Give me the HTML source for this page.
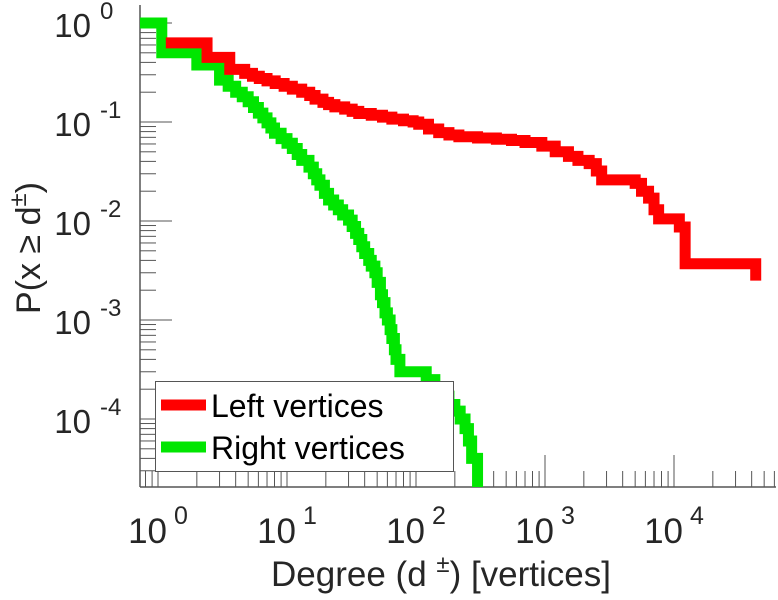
<!DOCTYPE html>
<html><head><meta charset="utf-8">
<style>
html,body{margin:0;padding:0;background:#fff;}
svg{display:block;font-family:"Liberation Sans",Arial,sans-serif;}
</style></head>
<body>
<svg id="chart" width="778" height="600" viewBox="0 0 778 600" xmlns="http://www.w3.org/2000/svg">
  <defs><clipPath id="plotclip"><rect x="140" y="5" width="636" height="482"/></clipPath></defs>
  <g id="ticks"></g>
  <g id="series" clip-path="url(#plotclip)"></g>
  <g id="labels"></g>
  <text transform="translate(40,248) rotate(-90)" text-anchor="middle" font-size="34" fill="#262626">P(x ≥ d<tspan dy="-14" font-size="24">±</tspan><tspan dy="14">)</tspan></text>
  <text x="441" y="586" text-anchor="middle" font-size="35" fill="#262626">Degree (d <tspan dy="-14" font-size="24">±</tspan><tspan dy="14">) [vertices]</tspan></text>
  <g>
    <rect x="155.5" y="381.5" width="298" height="90" fill="#fff" stroke="#555" stroke-width="1"/>
    <line x1="161" y1="405" x2="206" y2="405" stroke="#ff0000" stroke-width="11"/>
    <text x="211" y="417" font-size="32" fill="#000">Left vertices</text>
    <line x1="161" y1="447" x2="206" y2="447" stroke="#00e600" stroke-width="11"/>
    <text x="211" y="459" font-size="32" fill="#000">Right vertices</text>
  </g>
</svg>
<script>
const leftDegrees = [1.15,2.4,3.6,4.7,5.4,6.1,7,8.1,9.5,11,13,15,16.5,19,21,23.5,28,32,36,45,55,65,80,95,105,125,150,180,215,300,420,550,700,945,1200,1520,1800,2200,2500,2750,5000,5600,6350,7000,7600,11000,12200,43000];
const leftProb = [0.63,0.45,0.34,0.31,0.29,0.275,0.26,0.245,0.23,0.215,0.2,0.185,0.17,0.158,0.15,0.142,0.135,0.128,0.122,0.117,0.112,0.107,0.103,0.1,0.095,0.085,0.078,0.074,0.071,0.069,0.067,0.065,0.062,0.057,0.05,0.045,0.041,0.038,0.032,0.026,0.024,0.02,0.017,0.013,0.0105,0.0087,0.0037,0.0025];
const rightDegrees = [0.7,1.07,2,3,3.5,4,4.5,5,5.5,6,6.5,7,7.5,8,9,10,11,12,13,14.8,16,17,18,19.5,21,23,25,27,30,32,34,36,38,40,43,45,48,50,53,55,57.5,60,63,65,68,70,75,120,140,160,180,200,220,240,255,270,300];
const rightProb = [1,0.5,0.376,0.265,0.23,0.2,0.18,0.16,0.14,0.123,0.11,0.098,0.087,0.077,0.068,0.061,0.054,0.047,0.041,0.035,0.03,0.026,0.023,0.019,0.0163,0.0145,0.013,0.0115,0.0102,0.0088,0.0075,0.0065,0.0055,0.0047,0.004,0.0035,0.003,0.0024,0.0018,0.0015,0.00118,0.001,0.0008,0.00065,0.0005,0.0004,0.0003,0.00025,0.0002,0.00017,0.00014,0.00012,0.0001,0.00008,0.00006,0.00004,0.000015];
const xDecades = [0,1,2,3,4];
const yDecades = [0,-1,-2,-3,-4];

const NS="http://www.w3.org/2000/svg";
const X0=158, XD=129, Y0=23, YD=99, LEFT=140, BOTTOM=487, RIGHT=776, TOP=5;
function xs(d){return X0+XD*Math.log10(d);}
function ys(p){return Y0-YD*Math.log10(p);}
function mk(tag,attrs,parent){const e=document.createElementNS(NS,tag);for(const k in attrs)e.setAttribute(k,attrs[k]);parent.appendChild(e);return e;}

const ticks=document.getElementById('ticks');
const labels=document.getElementById('labels');
const series=document.getElementById('series');
let ax=mk('line',{x1:LEFT,y1:TOP,x2:LEFT,y2:BOTTOM,stroke:'#555','stroke-width':1.5},ticks);


let bx=mk('line',{x1:LEFT,y1:BOTTOM,x2:RIGHT,y2:BOTTOM,stroke:'#555','stroke-width':1.5},ticks);


for(let e=1;e>=-5;e--){
  for(let m=1;m<10;m++){
    const y=ys(m*Math.pow(10,e));
    if(y<TOP||y>BOTTOM)continue;
    const len=m===1?32:16;
    const t=mk('line',{x1:LEFT,y1:y,x2:LEFT+len,y2:y,stroke:'#555','stroke-width':1},ticks);
    
    
  }
}
for(let e=-1;e<=5;e++){
  for(let m=1;m<10;m++){
    const x=xs(m*Math.pow(10,e));
    if(x<LEFT||x>RIGHT)continue;
    const len=m===1?32:16;
    const t=mk('line',{x1:x,y1:BOTTOM,x2:x,y2:BOTTOM-len,stroke:'#555','stroke-width':1},ticks);
    
    
  }
}
yDecades.forEach(e=>{
  const y=ys(Math.pow(10,e));
  const t=mk('text',{x:91,y:y+14,'text-anchor':'end','font-size':33,fill:'#262626'},labels);
  t.textContent='10';
  
  
  const s=mk('text',{x:100,y:y-4,'font-size':24,fill:'#262626'},labels);
  s.textContent=String(e);
  
  
});
xDecades.forEach(e=>{
  const x=xs(Math.pow(10,e));
  const t=mk('text',{x:x+9,y:543,'text-anchor':'end','font-size':35,fill:'#262626'},labels);
  t.textContent='10';
  
  
  const s=mk('text',{x:x+16,y:524,'font-size':25,fill:'#262626'},labels);
  s.textContent=String(e);
  
  
});
function stairs(ds,ps,color,name){
  let d='M'+xs(ds[0])+','+ys(ps[0]);
  for(let i=1;i<ds.length;i++){
    d+=' L'+xs(ds[i])+','+ys(ps[i-1])+' L'+xs(ds[i])+','+ys(ps[i]);
  }
  const p=mk('path',{d:d,fill:'none',stroke:color,'stroke-width':11,'stroke-linejoin':'miter','stroke-linecap':'butt'},series);
  
  
}
stairs(rightDegrees,rightProb,'#00e600','right-vertices-line');
stairs(leftDegrees,leftProb,'#ff0000','left-vertices-line');
</script>
</body></html>
